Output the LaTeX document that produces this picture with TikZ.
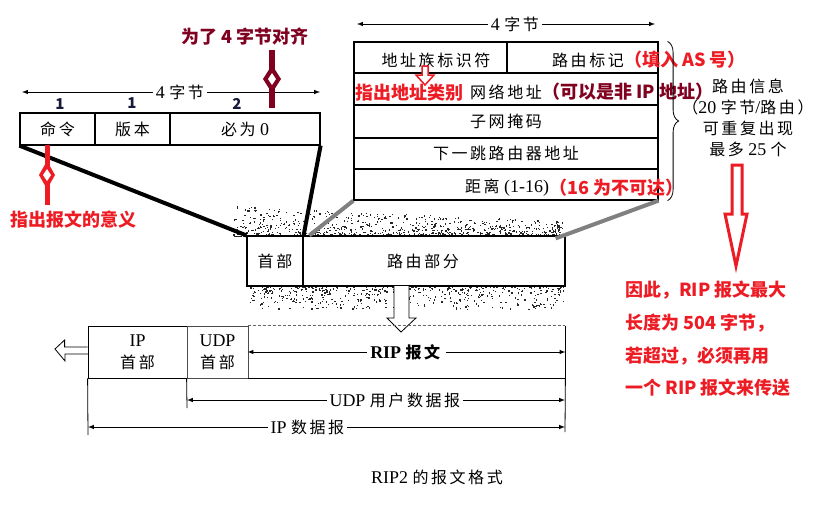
\documentclass[tikz,border=0pt]{standalone}
\usepackage{fontspec}
\setmainfont{Liberation Serif}[Scale=1.12]
\newfontfamily\zhfont[LetterSpace=16]{Noto Sans CJK SC}
\newfontfamily\notefont{Noto Sans CJK SC}
\usetikzlibrary{positioning,arrows,decorations.pathreplacing}
\definecolor{colornote}{RGB}{237,28,36}
\definecolor{colordark}{RGB}{128,0,32}
\definecolor{colorgray}{RGB}{128,128,128}
\definecolor{colornum}{RGB}{25,25,60}
\newcommand{\zh}[1]{{\zhfont #1}}

\begin{document}
\begin{tikzpicture}[x=1pt,y=-1pt,
    font={\fontsize{16}{18}\selectfont},
    field/.style={draw,line width=1.2pt,inner sep=0pt},
    part/.style={draw,line width=0.8pt,inner sep=0pt,align=center,font={\fontsize{16}{22}\selectfont}},
    note/.style={text=colornote,inner sep=0pt,font={\notefont\bfseries\fontsize{18}{20}\selectfont}},
    darknote/.style={note,text=colordark},
    num/.style={text=colornum,font={\notefont\bfseries\fontsize{15}{16}\selectfont}},
    dim/.style={line width=1pt,latex-latex},
    gap/.style={fill=white,inner sep=3pt},
    hollow/.style={draw,fill=white,line width=0.8pt},
]

    \useasboundingbox (0,0) rectangle (820,512);

    % speckled shadow round the RIP message
    \pgfmathsetseed{42}
    \foreach \i in {1,...,1100}{
        \pgfmathsetmacro\sx{232+330*rnd}
        \pgfmathsetmacro\sr{rnd}
        \pgfmathsetmacro\sy{236-(30-15*(\sx-232)/330)*\sr*\sr*\sr}
        \fill[black!85] (\sx,\sy) rectangle ++(1.3,1.3);
    }
    \foreach \i in {1,...,800}{
        \pgfmathsetmacro\sx{250+313*rnd}
        \pgfmathsetmacro\sr{rnd}
        \pgfmathsetmacro\sy{285+24*\sr*\sr*\sr}
        \fill[black!85] (\sx,\sy) rectangle ++(1.3,1.3);
    }

    % RIP header
    \node[field,minimum width=75,minimum height=32] (cmd) at (57.5,129) {\zh{命令}};
    \node[field,minimum width=75,minimum height=32] (ver) at (132.5,129) {\zh{版本}};
    \node[field,minimum width=150,minimum height=32] (zero) at (245,129) {\zh{必为} 0};
    \node[num] (n1) at (60,104) {1};
    \node[num] (n2) at (132,103) {1};
    \node[num] (n3) at (237,104) {2};
    \coordinate (hl) at (22,92);
    \coordinate (hr) at (320,92);
    \draw[dim] (hl) -- node[gap,pos=0.53] (hw) {4 \zh{字节}} (hr);

    % route entry
    \node[field,minimum width=153,minimum height=31] (r1a) at (430.5,57.5) {};
    \node[field,minimum width=151,minimum height=31] (r1b) at (582.5,57.5) {};
    \node[field,minimum width=304,minimum height=32] (r2) at (506,89) {};
    \node[field,minimum width=304,minimum height=33] (r3) at (506,121.5) {\zh{子网掩码}};
    \node[field,minimum width=304,minimum height=31] (r4) at (506,153.5) {\zh{下一跳路由器地址}};
    \node[field,minimum width=304,minimum height=31] (r5) at (506,184.5) {};
    \node (fam) at (436,60) {\zh{地址族标识符}};
    \node[anchor=west,inner sep=0pt] (tag) at (552,60) {\zh{路由标记}};
    \node[note,anchor=west] (tagnote) at (tag.east) {（填入 AS 号）};
    \node[note,anchor=west] (famnote) at (355,93) {指出地址类别};
    \node[anchor=west,inner sep=0pt] (net) at (470,92) {\zh{网络地址}};
    \node[darknote,anchor=west] (netnote) at (net.east) {（可以是非 IP 地址）};
    \node[anchor=west,inner sep=0pt] (dist) at (465,188) {\zh{距离} (1-16)};
    \node[note,anchor=west] (distnote) at (dist.east) {（16 为不可达）};
    \draw[hollow,draw=colornote,line width=1.5pt] (422,66) -- (428,66) -- (428,75) -- (434,75)
        -- (425,85) -- (416,75) -- (422,75) -- cycle;
    \coordinate (el) at (357,24);
    \coordinate (er) at (655,24);
    \draw[dim] (el) -- node[gap,pos=0.53] (ew) {4 \zh{字节}} (er);
    \draw[decorate,decoration={brace,amplitude=11pt},line width=0.8pt]
        ([xshift=9pt]r1b.north east) -- ([xshift=9pt]r5.south east);
    \node[align=center,font={\fontsize{16}{21}\selectfont}] (info) at (748,118)
        {\zh{路由信息}\\\zh{（}20 \zh{字节}/\zh{路由）}\\\zh{可重复出现}\\\zh{最多} 25 \zh{个}};

    % RIP message
    \node[field,minimum width=56,minimum height=50] (hdr) at (275,261) {\zh{首部}};
    \node[field,minimum width=262,minimum height=50] (route) at (434,261) {};
    \node (routetext) at (423,261) {\zh{路由部分}};
    \draw[line width=4pt] (cmd.south west) -- (hdr.north west);
    \draw[line width=4pt] (zero.south east) -- (hdr.north east);
    \draw[colorgray,line width=4pt] (r5.south west) -- ([xshift=7pt]route.north west);
    \draw[colorgray,line width=4pt] (r5.south east) -- ([xshift=-10pt,yshift=-3pt]route.north east);
    \draw[hollow] (394,286) -- (394,318) -- (387,318) -- (401,332) -- (416,318) -- (409,318) -- (409,286);

    % UDP / IP
    \node[part,minimum width=99,minimum height=52] (ip) at (137.5,352) {IP\\\zh{首部}};
    \node[part,draw=black!70,minimum width=61,minimum height=52] (udp) at (217.5,352) {UDP\\\zh{首部}};
    \node[part,draw=none,minimum width=317,minimum height=52] (rip) at (406.5,352) {};
    \draw[line width=0.8pt] (rip.north east) -- (rip.south east) -- (rip.south west);
    \draw[black!60,densely dashed,line width=0.8pt] (rip.north west) -- (rip.north east);
    \draw[hollow] (ip.west) ++(0,-5) -- ++(-23,0) -- ++(0,-7) -- (55,349) -- (65,361) -- (65,354) -- (88,354);
    \draw[dim] (rip.west) -- node[gap] (ripw) {\textbf{RIP \zh{报文}}} (rip.east);
    \coordinate (ut) at (187,408);
    \coordinate (it) at (88,435);
    \coordinate (rt) at (565,432);
    \draw[line width=0.8pt] (udp.south west) -- (ut);
    \draw[line width=0.8pt] (ip.south west) -- (it);
    \draw[line width=0.8pt] (rip.south east) -- (rt);
    \coordinate (ul) at (187,400);
    \coordinate (ur) at (565,400);
    \draw[dim] (ul) -- node[gap,pos=0.55] (uw) {UDP \zh{用户数据报}} (ur);
    \coordinate (il) at (88,427);
    \coordinate (ir) at (565,427);
    \draw[dim] (il) -- node[gap,pos=0.46] (iw) {IP \zh{数据报}} (ir);
    \node (cap) at (437,477) {RIP2 \zh{的报文格式}};

    % notes
    \node[darknote] (align) at (245,37) {为了 4 字节对齐};
    \coordinate (a1) at (272,50);
    \coordinate (a2) at (272,108);
    \draw[colordark,line width=6pt] (a1) -- (a2);
    \fill[colordark] (272,65) -- (281,79) -- (272,93) -- (263,79) -- cycle;
    \fill[white] (272,73) -- (276,79) -- (272,85) -- (268,79) -- cycle;
    \node[note] (meaning) at (73,220) {指出报文的意义};
    \coordinate (m1) at (47,145);
    \coordinate (m2) at (47,205);
    \draw[colornote,line width=5pt] (m1) -- (m2);
    \fill[colornote] (47,161) -- (55,175) -- (47,189) -- (39,175) -- cycle;
    \fill[white] (47,169) -- (51,175) -- (47,181) -- (43,175) -- cycle;
    \draw[hollow,draw=colornote,line width=3pt] (732,165) -- (742,165) -- (742,214) -- (747,214)
        -- (736,266) -- (725,214) -- (732,214) -- cycle;
    \node[note,align=left,anchor=west,font={\notefont\bfseries\fontsize{18}{32.7}\selectfont}] (why) at (625,339)
        {因此，RIP 报文最大\\长度为 504 字节，\\若超过，必须再用\\一个 RIP 报文来传送};

\end{tikzpicture}
\end{document}
